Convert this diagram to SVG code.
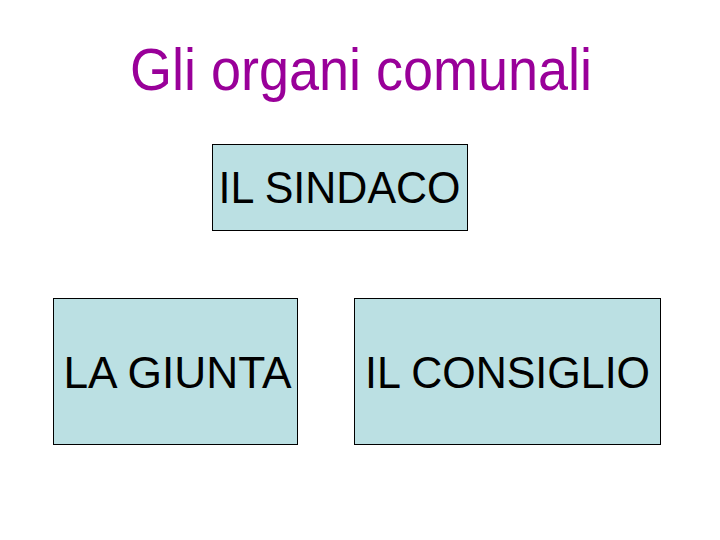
<svg xmlns="http://www.w3.org/2000/svg" width="720" height="540" viewBox="0 0 720 540">
<style>
.box{fill:#BBE0E3;stroke:#000000;stroke-width:1}
.lbl{font-family:"Liberation Sans",Arial,sans-serif;font-size:43px;fill:#000000;text-anchor:middle}
.title{font-family:"Liberation Sans",Arial,sans-serif;font-size:54px;fill:#990099;text-anchor:middle}
</style>
<rect width="720" height="540" fill="#ffffff"/>
<text class="title" transform="translate(361,90) scale(1,1.08)">Gli organi comunali</text>
<g id="connectors"></g>
<g id="sindaco">
<rect class="box" x="212.5" y="144.5" width="255" height="86"/>
<text class="lbl" transform="translate(339.5,203) scale(1,1.05)">IL SINDACO</text>
</g>
<g id="giunta">
<rect class="box" x="53.5" y="298.5" width="244" height="146"/>
<text class="lbl" transform="translate(177.5,388) scale(1.03,1.05)">LA GIUNTA</text>
</g>
<g id="consiglio">
<rect class="box" x="354.5" y="298.5" width="306" height="146"/>
<text class="lbl" transform="translate(507.5,388) scale(1,1.05)">IL CONSIGLIO</text>
</g>
</svg>
